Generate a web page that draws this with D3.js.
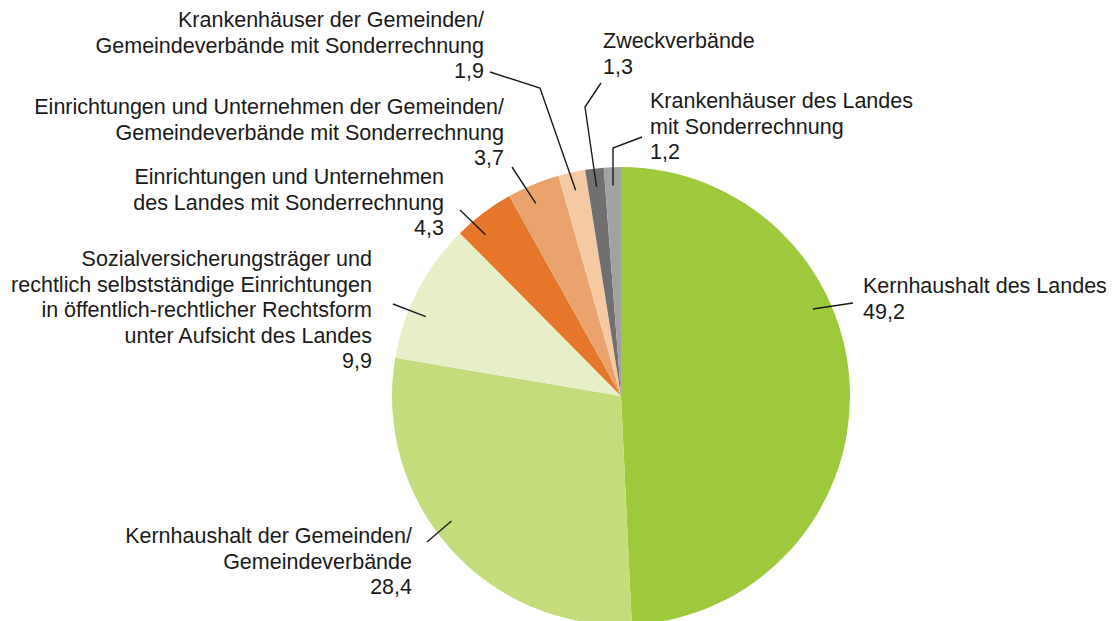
<!DOCTYPE html>
<html>
<head>
<meta charset="utf-8">
<script src="https://cdn.jsdelivr.net/npm/d3@7"></script>
<style>
  body { margin: 0; background: #fff; }
  svg text { font-family: Arial, "Liberation Sans", sans-serif; font-size: 21.5px; fill: #1a1a1a; }
</style>
</head>
<body>
<svg id="chart" width="1114" height="621"></svg>
<script>
// slices, clockwise from 12 o'clock
var categories = [
  "Kernhaushalt des Landes",
  "Kernhaushalt der Gemeinden/Gemeindeverbände",
  "Sozialversicherungsträger und rechtlich selbstständige Einrichtungen in öffentlich-rechtlicher Rechtsform unter Aufsicht des Landes",
  "Einrichtungen und Unternehmen des Landes mit Sonderrechnung",
  "Einrichtungen und Unternehmen der Gemeinden/Gemeindeverbände mit Sonderrechnung",
  "Krankenhäuser der Gemeinden/Gemeindeverbände mit Sonderrechnung",
  "Zweckverbände",
  "Krankenhäuser des Landes mit Sonderrechnung"
];
var values = [49.2, 28.4, 9.9, 4.3, 3.7, 1.9, 1.3, 1.2];
var valueLabels = ["49,2", "28,4", "9,9", "4,3", "3,7", "1,9", "1,3", "1,2"];
var labelLines = [
  ["Kernhaushalt des Landes"],
  ["Kernhaushalt der Gemeinden/", "Gemeindeverbände"],
  ["Sozialversicherungsträger und", "rechtlich selbstständige Einrichtungen", "in öffentlich-rechtlicher Rechtsform", "unter Aufsicht des Landes"],
  ["Einrichtungen und Unternehmen", "des Landes mit Sonderrechnung"],
  ["Einrichtungen und Unternehmen der Gemeinden/", "Gemeindeverbände mit Sonderrechnung"],
  ["Krankenhäuser der Gemeinden/", "Gemeindeverbände mit Sonderrechnung"],
  ["Zweckverbände"],
  ["Krankenhäuser des Landes", "mit Sonderrechnung"]
];
var colors = ["#9fc93c", "#c5dc7c", "#e6efc8", "#e5762a", "#eba36d", "#f5c9a1", "#707070", "#a2a2a2"];

// label layout: anchor, x, first baseline, where the leader sits in the slice (0..1), leader points outside
var layout = [
  {anchor: "start", x: 863, y: 293, t: 0.37, pts: [[853, 303]]},
  {anchor: "end",   x: 412, y: 543, t: 0.55, pts: [[427, 542]]},
  {anchor: "end",   x: 372, y: 266, t: 0.35, pts: [[393, 304]]},
  {anchor: "end",   x: 444, y: 184, t: 0.3,  pts: [[460, 210]]},
  {anchor: "end",   x: 504, y: 114, t: 0.4,  pts: [[512, 167]]},
  {anchor: "end",   x: 484, y: 27,  t: 0.5,  pts: [[540, 88], [490, 72]]},
  {anchor: "start", x: 603, y: 48,  t: 0.5,  pts: [[585, 107], [601, 83]]},
  {anchor: "start", x: 650, y: 108, t: 0.5,  pts: [[613, 148], [642, 137]]}
];

var cx = 621, cy = 396, R = 229, lineH = 25.5;

var svg = d3.select("#chart");
var g = svg.append("g").attr("transform", "translate(" + cx + "," + cy + ")");

var pie = d3.pie().sort(null).value(function(d) { return d; });
var arcs = pie(values);
var arc = d3.arc().innerRadius(0).outerRadius(R);

g.selectAll("path.slice")
  .data(arcs)
  .enter().append("path")
    .attr("class", "slice")
    .attr("d", arc)
    .attr("fill", function(d, i) { return colors[i]; });

// leader lines
arcs.forEach(function(d, i) {
  var L = layout[i];
  var a = d.startAngle + (d.endAngle - d.startAngle) * L.t;
  var r = R * 0.92;
  var inner = [cx + r * Math.sin(a), cy - r * Math.cos(a)];
  var pts = [inner].concat(L.pts);
  svg.append("path")
    .attr("d", d3.line()(pts))
    .attr("fill", "none")
    .attr("stroke", "#1a1a1a")
    .attr("stroke-width", 1.4);

  var t = svg.append("text").attr("text-anchor", L.anchor);
  labelLines[i].concat([valueLabels[i]]).forEach(function(s, k) {
    t.append("tspan").attr("x", L.x).attr("y", L.y + k * lineH).text(s);
  });
});
</script>
</body>
</html>
